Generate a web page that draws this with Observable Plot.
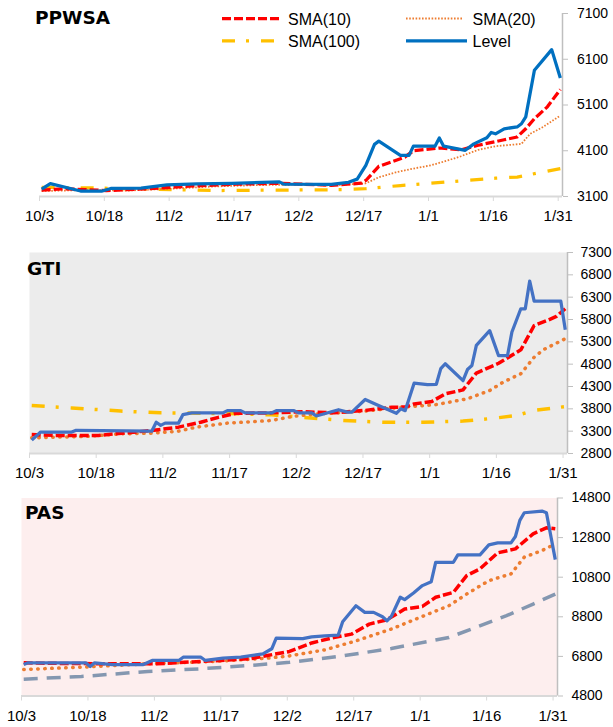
<!DOCTYPE html>
<html>
<head>
<meta charset="utf-8">
<script src="https://cdn.jsdelivr.net/npm/d3@7"></script>
<script src="https://cdn.jsdelivr.net/npm/@observablehq/plot@0.6"></script>
<style>
  html, body { margin: 0; padding: 0; background: #fff; }
  body { width: 613px; height: 727px; overflow: hidden; position: relative; font-family: "Liberation Sans", Arial, sans-serif; }
  .panel { position: absolute; left: 0; }
  #overlay { position: absolute; left: 0; top: 0; pointer-events: none; }
</style>
</head>
<body>
<div id="p1" class="panel" style="top:0px"></div>
<div id="p2" class="panel" style="top:232px"></div>
<div id="p3" class="panel" style="top:480px"></div>
<svg id="overlay" width="613" height="727"></svg>
<script>
// ---------- data (MM-DD, value); Oct-Dec = 2017, Jan = 2018 ----------
const tickDays   = ["10-03","10-18","11-02","11-17","12-02","12-17","01-01","01-16","01-31"];
const tickLabels = ["10/3","10/18","11/2","11/17","12/2","12/17","1/1","1/16","1/31"];

const titles = ["PPWSA", "GTI", "PAS"];
const seriesNames = ["SMA(10)", "SMA(20)", "SMA(100)", "Level"];

const ppwsaTicks = [3100, 4100, 5100, 6100, 7100];
const gtiTicks   = [2800, 3300, 3800, 4300, 4800, 5300, 5800, 6300, 6800, 7300];
const pasTicks   = [4800, 6800, 8800, 10800, 12800, 14800];

const ppwsaLevel = [["10-03",3260],["10-05",3380],["10-12",3220],["10-17",3220],["10-19",3275],["10-26",3285],["11-01",3355],["11-08",3375],["11-16",3385],["11-27",3420],["11-28",3370],["12-09",3365],["12-13",3410],["12-15",3480],["12-17",3780],["12-19",4240],["12-20",4310],["12-25",4000],["12-27",4000],["12-28",4200],["01-02",4200],["01-03",4380],["01-04",4200],["01-09",4110],["01-11",4250],["01-14",4385],["01-15",4500],["01-16",4470],["01-18",4580],["01-21",4620],["01-22",4690],["01-23",4840],["01-25",5860],["01-29",6310],["01-31",5690]];
const ppwsaSma10 = [["10-03",3240],["10-08",3270],["10-13",3250],["10-18",3230],["10-28",3270],["11-07",3330],["11-17",3370],["11-27",3390],["12-09",3345],["12-16",3390],["12-17",3450],["12-20",3760],["12-26",3960],["12-28",4100],["01-03",4160],["01-08",4120],["01-12",4220],["01-18",4340],["01-21",4400],["01-23",4580],["01-25",4800],["01-28",5060],["01-31",5440]];
const ppwsaSma20 = [["10-03",3220],["10-13",3240],["10-23",3230],["11-02",3270],["11-12",3320],["11-22",3350],["12-02",3360],["12-09",3340],["12-17",3390],["12-20",3520],["12-24",3630],["12-28",3710],["01-01",3780],["01-05",3890],["01-08",3980],["01-12",4120],["01-16",4200],["01-22",4250],["01-24",4470],["01-27",4620],["01-31",4870]];
const ppwsaSma100 = [["10-03",3300],["10-13",3290],["10-28",3260],["11-12",3230],["11-27",3240],["12-12",3250],["12-17",3270],["12-25",3340],["01-01",3390],["01-09",3450],["01-16",3500],["01-21",3525],["01-24",3580],["01-31",3710]];

const gtiLevel = [["10-03",3100],["10-05",3280],["10-12",3280],["10-13",3320],["10-30",3300],["10-31",3500],["11-01",3430],["11-02",3480],["11-05",3480],["11-06",3670],["11-08",3710],["11-15",3710],["11-16",3760],["11-19",3760],["11-20",3710],["11-26",3710],["11-27",3760],["12-01",3760],["12-02",3710],["12-05",3710],["12-06",3640],["12-11",3780],["12-13",3725],["12-14",3725],["12-17",4010],["12-20",3875],["12-24",3700],["12-25",3800],["12-26",3760],["12-28",4375],["12-31",4340],["01-02",4350],["01-03",4700],["01-04",4810],["01-08",4430],["01-09",4680],["01-10",4770],["01-11",5220],["01-14",5550],["01-16",4990],["01-18",4990],["01-19",5520],["01-21",6040],["01-22",6040],["01-23",6660],["01-24",6210],["01-30",6210],["01-31",5570]];
const gtiSma10 = [["10-03",3225],["10-08",3205],["10-18",3205],["10-30",3315],["11-05",3390],["11-10",3500],["11-14",3610],["11-18",3700],["11-26",3710],["12-03",3735],["12-10",3710],["12-17",3765],["12-23",3835],["12-26",3840],["12-28",3910],["01-01",3965],["01-04",4135],["01-08",4225],["01-11",4600],["01-16",4820],["01-21",5120],["01-24",5665],["01-27",5780],["01-29",5870],["01-31",6040]];
const gtiSma20 = [["10-03",3150],["10-08",3165],["10-15",3180],["10-23",3240],["10-30",3255],["11-05",3300],["11-09",3390],["11-16",3480],["11-22",3515],["11-26",3540],["12-01",3635],["12-07",3690],["12-17",3750],["12-25",3835],["01-02",3895],["01-09",4025],["01-14",4210],["01-17",4395],["01-21",4585],["01-24",4955],["01-26",5120],["01-31",5370]];
const gtiSma100 = [["10-03",3875],["10-12",3820],["10-23",3750],["11-01",3710],["11-07",3705],["11-18",3690],["11-26",3665],["12-04",3600],["12-12",3540],["12-21",3500],["12-30",3500],["01-08",3525],["01-15",3590],["01-20",3650],["01-24",3765],["01-31",3850]];

const pasLevel = [["10-03",6390],["10-04",6475],["10-17",6475],["10-18",6290],["10-19",6475],["10-23",6390],["10-30",6390],["11-01",6595],["11-07",6595],["11-08",6760],["11-12",6760],["11-13",6595],["11-17",6710],["11-21",6760],["11-26",6930],["11-28",7185],["11-29",7720],["12-05",7700],["12-07",7790],["12-10",7840],["12-13",7875],["12-14",8550],["12-17",9360],["12-19",9025],["12-21",9025],["12-23",8805],["12-24",8600],["12-25",8820],["12-27",9785],["12-28",9665],["12-30",10000],["01-01",10375],["01-03",10575],["01-04",11555],["01-08",11555],["01-09",11930],["01-14",11930],["01-16",12435],["01-18",12535],["01-21",12535],["01-22",12855],["01-23",13670],["01-24",14055],["01-28",14140],["01-29",14055],["01-31",11690]];
const pasSma10 = [["10-03",6475],["10-13",6440],["10-23",6430],["11-02",6425],["11-12",6545],["11-23",6680],["11-27",6845],["12-02",7050],["12-07",7480],["12-12",7755],["12-16",7925],["12-20",8430],["12-24",8650],["12-28",9190],["01-01",9325],["01-04",9785],["01-08",10035],["01-11",10880],["01-14",11220],["01-18",12030],["01-22",12230],["01-26",12990],["01-29",13295],["01-31",13245]];
const pasSma20 = [["10-03",6140],["10-16",6255],["10-31",6425],["11-15",6545],["11-27",6710],["12-02",6825],["12-10",7130],["12-17",7585],["12-25",8180],["01-01",8820],["01-07",9360],["01-11",9950],["01-16",10625],["01-21",10965],["01-24",11810],["01-28",12145],["01-31",12485]];
const pasSma100 = [["10-03",5650],["10-16",5785],["10-31",6040],["11-12",6175],["11-23",6340],["12-02",6500],["12-14",6825],["12-25",7200],["01-07",7755],["01-13",8260],["01-20",8855],["01-26",9445],["01-31",9950]];

// ---------- helpers ----------
const toDate = (s, h = 0) => {
  const [m, d] = s.split("-").map(Number);
  return new Date(Date.UTC(m >= 10 ? 2017 : 2018, m - 1, d, h));
};
const rows = arr => arr.map(([d, v]) => ({date: toDate(d, 12), value: v}));
const xDomain = [toDate("10-03"), toDate("02-01")];
const tickDates = tickDays.map(d => toDate(d));
const labelOf = new Map(tickDates.map((d, i) => [+d, tickLabels[i]]));

const RED = "#ff0000", ORANGE = "#ed7d31", YELLOW = "#ffc000";
const dashRed = "9,3", dashYellow = "13,11,3,12";

function drawPanel(cfg) {
  const marks = [];
  if (cfg.bg) marks.push(Plot.frame({fill: cfg.bg, stroke: null}));
  marks.push(Plot.ruleY([cfg.yTicks[0]], {stroke: "#d9d9d9", strokeWidth: 2}));
  marks.push(Plot.ruleX([xDomain[1]], {stroke: "#bfbfbf", strokeWidth: 1.5}));
  for (const s of cfg.series) {
    marks.push(Plot.line(rows(s.data), {
      x: "date", y: "value", stroke: s.color, strokeWidth: s.width,
      strokeDasharray: s.dash, strokeLinecap: s.cap || "butt", strokeLinejoin: "round"
    }));
  }
  marks.push(Plot.axisX({ticks: tickDates, tickFormat: d => labelOf.get(+d), tickSize: 5, tickPadding: 9,
    stroke: "#d9d9d9", fill: "#000", label: null, fontSize: 15}));
  marks.push(Plot.axisY({anchor: "right", ticks: cfg.yTicks, tickFormat: d => String(d), tickSize: 5, tickPadding: cfg.yPad,
    stroke: "#bfbfbf", fill: "#000", label: null, fontSize: 14}));
  const svg = Plot.plot({
    width: 613, height: cfg.height,
    marginTop: cfg.mt, marginBottom: cfg.mb, marginLeft: cfg.ml, marginRight: cfg.mr,
    x: {type: "utc", domain: xDomain},
    y: {domain: [cfg.yTicks[0], cfg.yTicks[cfg.yTicks.length - 1]]},
    style: {fontFamily: '"Liberation Sans", Arial, sans-serif', fontSize: "15px", color: "#000", background: "transparent", overflow: "visible"},
    marks
  });
  document.getElementById(cfg.el).appendChild(svg);
}

drawPanel({
  el: "p1", height: 232, mt: 13, mb: 36, ml: 39, mr: 51, yTicks: ppwsaTicks, yPad: 9.5,
  series: [
    {data: ppwsaSma100, color: YELLOW, width: 3.25, dash: dashYellow},
    {data: ppwsaSma20, color: ORANGE, width: 1.8, dash: "1.6,1.6"},
    {data: ppwsaSma10, color: RED, width: 3.25, dash: dashRed},
    {data: ppwsaLevel, color: "#0070c0", width: 3.25}
  ]
});
drawPanel({
  el: "p2", height: 248, mt: 20, mb: 27, ml: 29, mr: 46, yTicks: gtiTicks, yPad: 8, bg: "#ececec",
  series: [
    {data: gtiSma100, color: YELLOW, width: 3.5, dash: dashYellow},
    {data: gtiSma20, color: ORANGE, width: 3.5, dash: "0.5,6.5", cap: "round"},
    {data: gtiSma10, color: RED, width: 3.5, dash: dashRed},
    {data: gtiLevel, color: "#4472c4", width: 3.25}
  ]
});
drawPanel({
  el: "p3", height: 247, mt: 17.5, mb: 31.5, ml: 21, mr: 56, yTicks: pasTicks, yPad: 9, bg: "#fdeeee",
  series: [
    {data: pasSma100, color: "#8497b0", width: 3.5, dash: "14,9"},
    {data: pasSma20, color: ORANGE, width: 3.5, dash: "0.5,6.5", cap: "round"},
    {data: pasSma10, color: RED, width: 3.5, dash: dashRed},
    {data: pasLevel, color: "#4472c4", width: 3.25}
  ]
});

// ---------- titles and legend ----------
const ov = d3.select("#overlay");
const titlePos = [[35, 24], [27, 275], [25, 519]];
titles.forEach((t, i) => {
  ov.append("text").attr("x", titlePos[i][0]).attr("y", titlePos[i][1])
    .attr("font-family", '"DejaVu Sans", Verdana, sans-serif').attr("font-weight", "bold")
    .attr("font-size", 18.5).attr("fill", "#000").text(t);
});
const legendItems = [
  {name: seriesNames[0], x1: 222, x2: 282, y: 18.5, tx: 288, ty: 24.5, color: RED, width: 3.25, dash: dashRed},
  {name: seriesNames[1], x1: 406, x2: 462, y: 18.5, tx: 472.5, ty: 24.5, color: ORANGE, width: 1.8, dash: "1.6,1.6"},
  {name: seriesNames[2], x1: 222, x2: 274, y: 40.8, tx: 288, ty: 46.5, color: YELLOW, width: 3.25, dash: dashYellow},
  {name: seriesNames[3], x1: 406, x2: 467, y: 40.8, tx: 472.5, ty: 46.5, color: "#0070c0", width: 3.25, dash: null}
];
for (const it of legendItems) {
  const ln = ov.append("line").attr("x1", it.x1).attr("x2", it.x2).attr("y1", it.y).attr("y2", it.y)
    .attr("stroke", it.color).attr("stroke-width", it.width);
  if (it.dash) ln.attr("stroke-dasharray", it.dash);
  ov.append("text").attr("x", it.tx).attr("y", it.ty)
    .attr("font-family", '"Liberation Sans", Arial, sans-serif').attr("font-size", 16).attr("fill", "#000").text(it.name);
}
</script>
</body>
</html>
